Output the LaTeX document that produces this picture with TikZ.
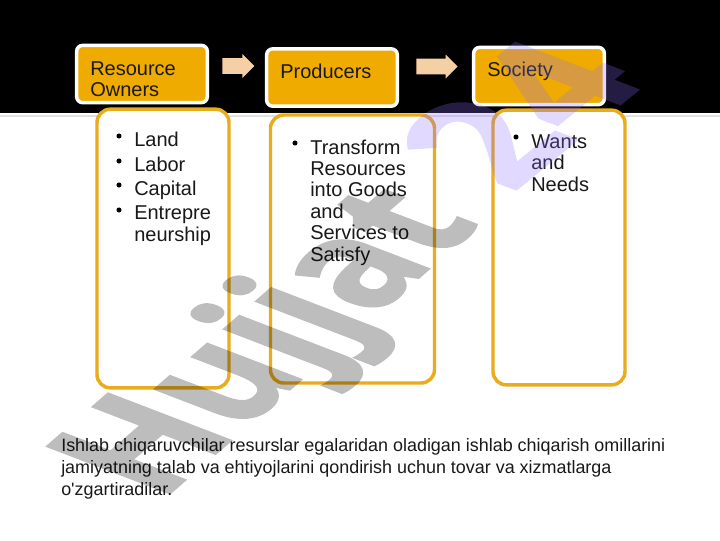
\documentclass[tikz,border=0pt]{standalone}
\usepackage{fontspec}
\usepackage{xcolor}
\setmainfont{Liberation Sans}[Ligatures=TeXOff]
\newfontfamily\markfont{Open Sans}[BoldFeatures={FakeBold=1.2}]
\usetikzlibrary{shapes.arrows}
\definecolor{headorange}{RGB}{240,171,0}
\definecolor{bodyorange}{RGB}{232,172,28}
\definecolor{arrowpeach}{RGB}{246,208,165}
\definecolor{markpurple}{RGB}{140,110,255}
\tikzset{
    headbox/.style={draw=white, line width=2.6pt, fill=headorange, rounded corners=4.5pt},
    bodybox/.style={draw=bodyorange, line width=2.6pt, fill=white, rounded corners=10pt},
    blockarrow/.style={single arrow, fill=arrowpeach, inner sep=5.6pt, single arrow head extend=3pt, anchor=tail},
    boxtext/.style={font=\fontsize{15pt}{16.1pt}\selectfont, align=left, inner sep=0pt, text=black!90},
    itemdot/.style={circle, fill=black, inner sep=0pt, minimum size=3.8pt},
    markword/.style={transform shape, anchor=base west, inner sep=0pt,
        font=\fontsize{75pt}{75pt}\markfont\selectfont\bfseries},
}
\begin{document}
\begin{tikzpicture}[x=0.75pt, y=-0.75pt]
    \useasboundingbox (0,0) rectangle (720,540);
    \fill[white] (0,0) rectangle (720,540);
    \fill[black] (0,0) rectangle (720,113);
    \draw[black!12, line width=0.8pt] (0,116) -- (720,116);
    % lower boxes
    \node[bodybox, minimum width=99pt, minimum height=209pt] (ownersbody) at (163,248.5) {};
    \node[bodybox, minimum width=123pt, minimum height=201pt] (producersbody) at (352.5,249) {};
    \node[bodybox, minimum width=99pt, minimum height=206pt] (societybody) at (559,247.5) {};
    % upper boxes
    \node[headbox, minimum width=98pt, minimum height=43pt] (ownershead) at (142,74) {};
    \node[headbox, minimum width=98pt, minimum height=43pt] (producershead) at (332,77.5) {};
    \node[headbox, minimum width=98pt, minimum height=43pt] (societyhead) at (539,76) {};
    \node[boxtext, anchor=west] (ownerstext) at (90,79) {Resource\\Owners};
    \node[boxtext, anchor=west] (producerstext) at (280,71.5) {Producers};
    \node[boxtext, anchor=west] (societytext) at (487,71.5) {Society};
    % arrows
    \node[blockarrow, minimum height=24pt, minimum width=18pt] (arrowone) at (222,66) {};
    \node[blockarrow, minimum height=31pt, minimum width=18pt] (arrowtwo) at (416,66.5) {};
    % lists
    \node[boxtext, anchor=base west] (land) at (134,146.5) {Land};
    \node[boxtext, anchor=base west] (labor) at (134,171) {Labor};
    \node[boxtext, anchor=base west] (capital) at (134,195) {Capital};
    \node[boxtext, anchor=west] (entre) at (134,225.5) {Entrepre\\neurship};
    \node[itemdot] (dotland) at (119,136) {};
    \node[itemdot] (dotlabor) at (119,161) {};
    \node[itemdot] (dotcapital) at (119,185) {};
    \node[itemdot] (dotentre) at (119,210) {};
    \node[boxtext, anchor=west] (transform) at (310,202.5) {Transform\\Resources\\into Goods\\and\\Services to\\Satisfy};
    \node[itemdot] (dottransform) at (295,143) {};
    \node[boxtext, anchor=west] (wants) at (531,163) {Wants\\and\\Needs};
    \node[itemdot] (dotwants) at (516,137) {};
    % bottom text
    \node[anchor=north west, inner sep=0pt, align=left, text=black!90,
        font=\fontsize{13.45pt}{16.5pt}\selectfont] (summary) at (61,438)
        {Ishlab chiqaruvchilar resurslar egalaridan oladigan ishlab chiqarish omillarini\\
        jamiyatning talab va ehtiyojlarini qondirish uchun tovar va xizmatlarga\\
        o'zgartiradilar.};
    % watermark
    \begin{scope}[transparency group, opacity=0.26]
        \node[cm={1.05,0.91,-1.72,0.66,(160,502)}, markword] (mark) at (0,0) {Hujjat};
        \node[cm={1.22,1.00,-1.72,0.66,(511,194)}, markword, text=markpurple] (markdigits) at (0,0) {24};
    \end{scope}
\end{tikzpicture}
\end{document}
